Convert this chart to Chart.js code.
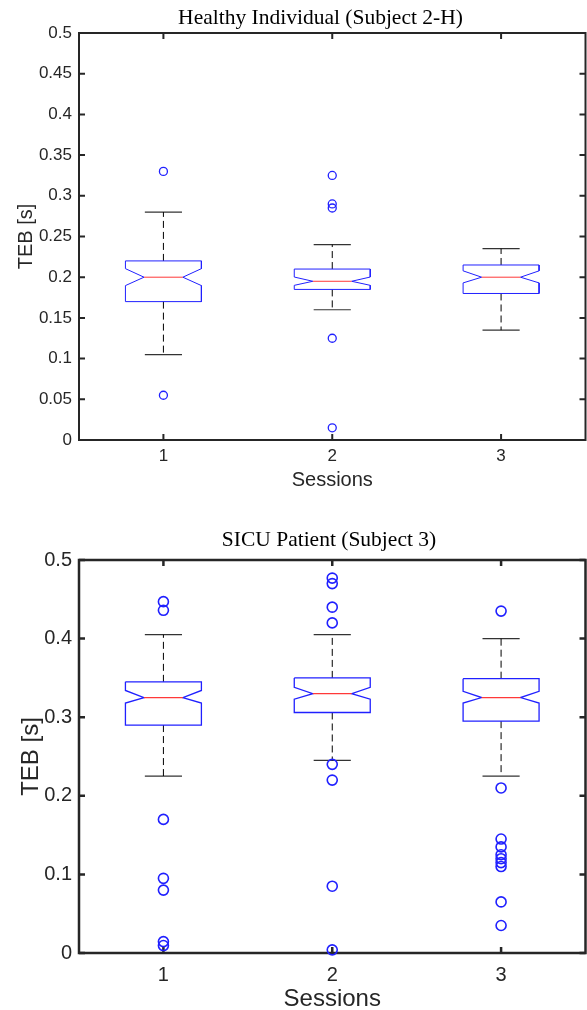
<!DOCTYPE html>
<html lang="en">
<head>
<meta charset="UTF-8">
<meta name="viewport" content="width=device-width, initial-scale=1.0">
<title>TEB box plots</title>
<script src="https://cdn.jsdelivr.net/npm/chart.js@4.4.0/dist/chart.umd.min.js"></script>
<style type="text/css">
	html, body {
		margin: 0;
		padding: 0;
		background: #fff;
		overflow: hidden;
	}
	canvas {
		display: block;
	}
</style>
</head>
<body>
	<canvas id="healthyChart" width="587" height="500"></canvas>
	<canvas id="sicuChart" width="587" height="512"></canvas>
<script>
// sessions on the x axis
const sessions = [1, 2, 3];

// Healthy Individual (Subject 2-H)
const hTicks = [0, 0.05, 0.1, 0.15, 0.2, 0.25, 0.3, 0.35, 0.4, 0.45, 0.5];
const hWhiskerLo = [0.105, 0.16, 0.135];
const hQ1 = [0.17, 0.185, 0.18];
const hNotchLo = [0.1897, 0.19, 0.193];
const hMedian = [0.2, 0.195, 0.2];
const hNotchHi = [0.2105, 0.2002, 0.2078];
const hQ3 = [0.22, 0.21, 0.215];
const hWhiskerHi = [0.28, 0.24, 0.235];
const hOutliers = [
	[0.33, 0.055],
	[0.325, 0.29, 0.285, 0.125, 0.015],
	[]
];

// SICU Patient (Subject 3)
const sTicks = [0, 0.1, 0.2, 0.3, 0.4, 0.5];
const sWhiskerLo = [0.225, 0.245, 0.225];
const sQ1 = [0.29, 0.306, 0.295];
const sNotchLo = [0.318, 0.323, 0.318];
const sMedian = [0.325, 0.33, 0.325];
const sNotchHi = [0.334, 0.338, 0.333];
const sQ3 = [0.345, 0.35, 0.349];
const sWhiskerHi = [0.405, 0.405, 0.4];
const sOutliers = [
	[0.447, 0.436, 0.17, 0.095, 0.08, 0.0145, 0.0095],
	[0.477, 0.47, 0.44, 0.42, 0.24, 0.22, 0.085, 0.004],
	[0.435, 0.21, 0.145, 0.135, 0.125, 0.12, 0.115, 0.11, 0.065, 0.035]
];

const BLUE = '#2020ff';
const RED = '#ff3838';
const INK = '#262626';

// box half width, notch half width, cap half width (x units)
const BW = 0.225, NW = 0.115, CW = 0.11;

function lineSet(points, color, width, dash) {
	return {
		type: 'scatter',
		data: points,
		showLine: true,
		borderColor: color,
		borderWidth: width,
		borderDash: dash || [],
		pointRadius: 0,
		tension: 0,
		fill: false,
		clip: false
	};
}

function boxDatasets(q1, nLo, med, nHi, q3, wLo, wHi, outliers, st) {
	let sets = [];
	let outPts = [];
	sessions.forEach(function(x, i) {
		sets.push(lineSet([{x: x - NW, y: med[i]}, {x: x + NW, y: med[i]}], RED, st.median));
		sets.push(lineSet([
			{x: x - BW, y: q3[i]}, {x: x + BW, y: q3[i]}, {x: x + BW, y: nHi[i]},
			{x: x + NW, y: med[i]}, {x: x + BW, y: nLo[i]}, {x: x + BW, y: q1[i]},
			{x: x - BW, y: q1[i]}, {x: x - BW, y: nLo[i]}, {x: x - NW, y: med[i]},
			{x: x - BW, y: nHi[i]}, {x: x - BW, y: q3[i]}
		], BLUE, st.box));
		// whiskers
		sets.push(lineSet([{x: x, y: q3[i]}, {x: x, y: wHi[i]}], '#000', 1, [7, 4]));
		sets.push(lineSet([{x: x, y: q1[i]}, {x: x, y: wLo[i]}], '#000', 1, [7, 4]));
		// caps
		sets.push(lineSet([{x: x - CW, y: wHi[i]}, {x: x + CW, y: wHi[i]}], '#333', 1.2));
		sets.push(lineSet([{x: x - CW, y: wLo[i]}, {x: x + CW, y: wLo[i]}], '#333', 1.2));
		outliers[i].forEach(function(v) {
			outPts.push({x: x, y: v});
		});
	});
	sets.unshift({
		type: 'scatter',
		data: outPts,
		pointStyle: 'circle',
		pointRadius: st.dot,
		pointBorderWidth: st.dotWidth,
		pointBorderColor: BLUE,
		pointBackgroundColor: 'rgba(0,0,0,0)',
		clip: false
	});
	return sets;
}

// frame with inward ticks on all four sides + title
const framePlugin = {
	id: 'frameTicks',
	beforeDatasetsDraw(chart, args, opts) {
		const {ctx, chartArea: a, scales} = chart;
		ctx.save();
		ctx.strokeStyle = INK;
		ctx.lineWidth = opts.width;
		ctx.strokeRect(a.left, a.top, a.right - a.left, a.bottom - a.top);
		const len = opts.tick;
		ctx.beginPath();
		scales.x.ticks.forEach(function(t) {
			const px = scales.x.getPixelForValue(t.value);
			ctx.moveTo(px, a.bottom); ctx.lineTo(px, a.bottom - len);
			ctx.moveTo(px, a.top); ctx.lineTo(px, a.top + len);
		});
		scales.y.ticks.forEach(function(t) {
			const py = scales.y.getPixelForValue(t.value);
			ctx.moveTo(a.left, py); ctx.lineTo(a.left + len, py);
			ctx.moveTo(a.right, py); ctx.lineTo(a.right - len, py);
		});
		ctx.stroke();
		ctx.restore();
	},
	afterDraw(chart, args, opts) {
		const ctx = chart.ctx;
		ctx.save();
		ctx.fillStyle = '#000';
		ctx.font = opts.titleFont;
		ctx.textAlign = 'center';
		ctx.textBaseline = 'alphabetic';
		ctx.fillText(opts.title, opts.titleX, opts.titleY);
		ctx.restore();
	}
};

function fmt(v) {
	return String(Math.round(v * 1000) / 1000);
}

function makeChart(id, sets, yTicks, cfg) {
	return new Chart(document.getElementById(id), {
		data: { datasets: sets },
		options: {
			responsive: false,
			animation: false,
			events: [],
			layout: { autoPadding: false, padding: { top: cfg.top, right: 1.5, left: 0, bottom: 0 } },
			plugins: {
				legend: { display: false },
				tooltip: { enabled: false },
				frameTicks: {
					width: cfg.frame, tick: 6,
					title: cfg.title, titleX: cfg.titleX, titleY: cfg.titleY,
					titleFont: '21.5px "Liberation Serif"'
				}
			},
			scales: {
				x: {
					type: 'linear',
					min: 0.5,
					max: 3.5,
					afterBuildTicks: function(s) { s.ticks = sessions.map(function(v) { return {value: v}; }); },
					afterFit: function(s) {
						s.height = cfg.xHeight;
						s.paddingLeft = 0;
						s.paddingRight = 0;
					},
					grid: { display: false, drawTicks: false },
					border: { display: false },
					ticks: {
						color: INK, padding: cfg.xPad,
						font: { family: 'Liberation Sans', size: cfg.tickSize },
						callback: function(v) { return fmt(v); }
					},
					title: {
						display: true, text: 'Sessions', color: INK,
						font: { family: 'Liberation Sans', size: cfg.labelSize, lineHeight: 1 },
						padding: { top: 0, bottom: cfg.xTitlePad }
					}
				},
				y: {
					type: 'linear',
					min: 0,
					max: 0.5,
					afterBuildTicks: function(s) { s.ticks = yTicks.map(function(v) { return {value: v}; }); },
					afterFit: function(s) {
						s.width = 79;
						s.paddingTop = 0;
						s.paddingBottom = 0;
					},
					grid: { display: false, drawTicks: false },
					border: { display: false },
					ticks: {
						color: INK, padding: 7,
						font: { family: 'Liberation Sans', size: cfg.tickSize },
						callback: function(v) { return fmt(v); }
					},
					title: {
						display: true, text: 'TEB [s]', color: INK,
						font: { family: 'Liberation Sans', size: cfg.labelSize, lineHeight: 1 },
						padding: { top: cfg.yTitlePad, bottom: 0 }
					}
				}
			}
		},
		plugins: [framePlugin]
	});
}

makeChart('healthyChart',
	boxDatasets(hQ1, hNotchLo, hMedian, hNotchHi, hQ3, hWhiskerLo, hWhiskerHi, hOutliers,
		{median: 1, box: 1, dot: 4, dotWidth: 1.3}),
	hTicks,
	{top: 33, frame: 2, title: 'Healthy Individual (Subject 2-H)', titleX: 320.5, titleY: 24,
	 xHeight: 60, xPad: 6, tickSize: 17, labelSize: 20, xTitlePad: 10, yTitlePad: 16});

makeChart('sicuChart',
	boxDatasets(sQ1, sNotchLo, sMedian, sNotchHi, sQ3, sWhiskerLo, sWhiskerHi, sOutliers,
		{median: 1.3, box: 1.3, dot: 5, dotWidth: 1.6}),
	sTicks,
	{top: 60, frame: 2.5, title: 'SICU Patient (Subject 3)', titleX: 329, titleY: 46,
	 xHeight: 59, xPad: 10, tickSize: 20, labelSize: 24, xTitlePad: 1, yTitlePad: 19});
</script>
</body>
</html>
